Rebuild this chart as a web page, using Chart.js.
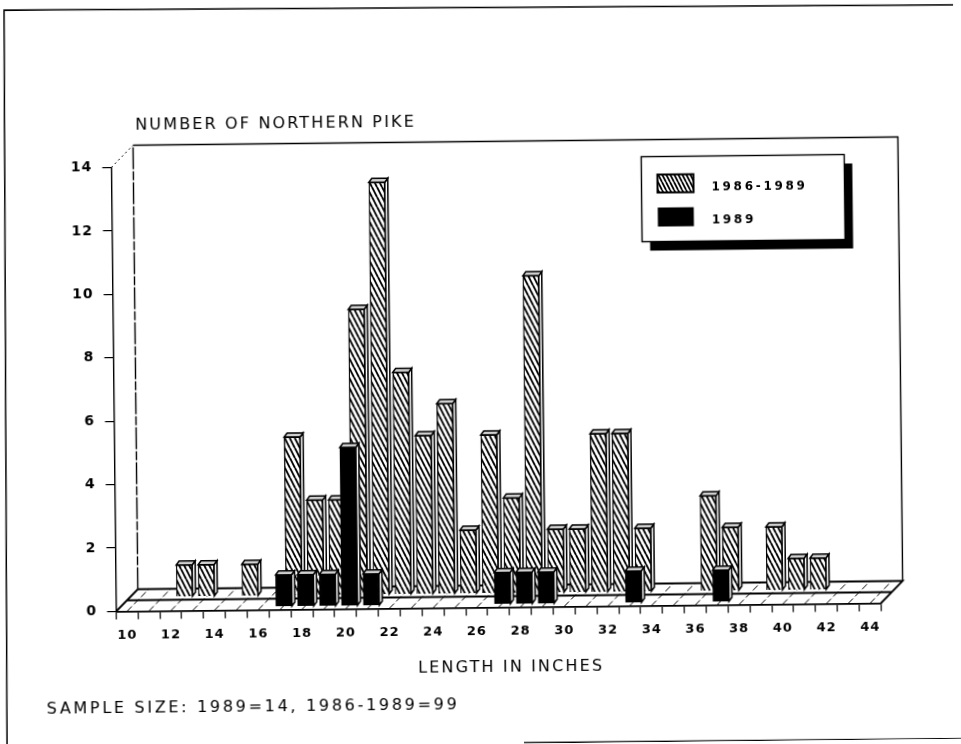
<!DOCTYPE html>
<html><head><meta charset="utf-8">
<style>html,body{margin:0;padding:0;background:#fff;overflow:hidden}
#wrap{width:961px;height:744px;transform:rotate(-0.62deg);transform-origin:480px 372px}
canvas{display:block}</style>
<script src="https://cdn.jsdelivr.net/npm/chart.js@4/dist/chart.umd.js"></script>
</head><body><div id="wrap"><canvas id="c" width="961" height="744"></canvas></div>
<script>
const lengthTicks=[10,11,12,13,14,15,16,17,18,19,20,21,22,23,24,25,26,27,28,29,30,31,32,33,34,35,36,37,38,39,40,41,42,43,44];
const lengths86=[12,13,15,17,18,19,20,21,22,23,24,25,26,27,28,29,30,31,32,33,36,37,39,40,41];
const counts86=[1,1,1,5,3,3,9,13,7,5,6,2,5,3,10,2,2,5,5,2,3,2,2,1,1];
const lengths89=[17,18,19,20,21,27,28,29,33,37];
const counts89=[1,1,1,5,1,1,1,1,1,1];
const countTicks=[0,2,4,6,8,10,12,14];
const seriesNames=['1986-1989','1989'];
const yTitle='NUMBER OF NORTHERN PIKE';
const xTitle='LENGTH IN INCHES';
const note='SAMPLE SIZE: 1989=14, 1986-1989=99';

const FONT='"DejaVu Sans"';
const ctx0=document.getElementById('c').getContext('2d');
function hatch(w,h,lw){
  const t=document.createElement('canvas');t.width=w;t.height=h;
  const g=t.getContext('2d');g.fillStyle='#fff';g.fillRect(0,0,w,h);
  g.strokeStyle='#000';g.lineWidth=lw;
  for(const o of [-w,0,w]){g.beginPath();g.moveTo(o,0);g.lineTo(o+w,h);g.stroke();}
  return ctx0.createPattern(t,'repeat');
}
const hatchBar=hatch(5,10,1.9), hatchLegend=hatch(4,8,1.8);
const DEPTH={dx:22,dy:22};
const SHIFT=[{dx:14,dy:14},{dx:4,dy:3}];
const BDX=3,BDY=4;

const depthPlugin={
  id:'depth',
  beforeDraw(ch){
    const c=ch.ctx,a=ch.chartArea;
    c.letterSpacing='1px';
    c.save();c.strokeStyle='#000';
    // page frame
    c.lineWidth=1.5;
    c.beginPath();c.moveTo(3,745);c.lineTo(8,5);c.lineTo(957,10);c.stroke();
    c.lineWidth=2;
    c.beginPath();c.moveTo(520,743.4);c.lineTo(957,744);c.stroke();
    // back wall
    c.lineWidth=1.4;
    c.beginPath();
    c.setLineDash([22,2,9,2]);
    c.moveTo(a.left+DEPTH.dx,a.bottom-DEPTH.dy);c.lineTo(a.left+DEPTH.dx,a.top-DEPTH.dy);
    c.stroke();c.setLineDash([]);
    c.beginPath();c.moveTo(a.left+DEPTH.dx,a.top-DEPTH.dy);c.lineTo(a.right+DEPTH.dx,a.top-DEPTH.dy);
    c.lineTo(a.right+DEPTH.dx,a.bottom-DEPTH.dy);c.stroke();
    c.lineWidth=1;c.setLineDash([2,3]);
    c.beginPath();c.moveTo(a.left,a.top);c.lineTo(a.left+DEPTH.dx,a.top-DEPTH.dy);c.stroke();c.setLineDash([]);
    // floor
    c.lineWidth=1.8;
    c.beginPath();
    c.moveTo(a.left+DEPTH.dx,a.bottom-DEPTH.dy);c.lineTo(a.right+DEPTH.dx,a.bottom-DEPTH.dy);
    c.lineTo(a.right,a.bottom);c.moveTo(a.left,a.bottom);c.lineTo(a.left+DEPTH.dx,a.bottom-DEPTH.dy);
    c.moveTo(a.left+DEPTH.dx/2,a.bottom-DEPTH.dy/2);c.lineTo(a.right+DEPTH.dx/2,a.bottom-DEPTH.dy/2);
    c.stroke();
    c.lineWidth=1;
    const xs=ch.scales.x;
    c.setLineDash([7,3]);
    for(const v of lengthTicks){
      const x=xs.getPixelForValue(v);
      c.beginPath();c.moveTo(x,a.bottom);c.lineTo(x+DEPTH.dx,a.bottom-DEPTH.dy);c.stroke();
    }
    c.restore();
    // legend
    c.save();
    const L=643.5,T=158.5,W=203,H=85;
    c.fillStyle='#000';c.fillRect(L+8,T+9,W,H);
    c.fillStyle='#fff';c.fillRect(L,T,W,H);
    c.strokeStyle='#000';c.lineWidth=1.4;c.strokeRect(L,T,W,H);
    c.fillStyle=hatchLegend;c.fillRect(L+16,T+18,36,18);c.lineWidth=2;c.strokeRect(L+16,T+18,36,18);
    c.fillStyle='#000';c.fillRect(L+16,T+51,36,19);
    c.font='bold 12px '+FONT;c.letterSpacing='2.7px';c.textBaseline='middle';c.textAlign='left';
    c.fillText(seriesNames[0],L+70,T+31);
    c.fillText(seriesNames[1],L+70,T+64);
    c.restore();
    // texts
    c.save();c.fillStyle='#000';c.textBaseline='middle';c.textAlign='left';
    c.font='16px '+FONT;c.letterSpacing='2.15px';
    c.fillText(yTitle,138,122);
    c.fillText(xTitle,415,668);
    c.letterSpacing='2.7px';
    c.fillText(note,43,705);
    c.restore();
  },
  beforeDatasetDraw(ch,args){
    const s=SHIFT[args.index],c=ch.ctx;
    c.save();c.translate(s.dx,-s.dy);
    const m=ch.getDatasetMeta(args.index);
    for(const b of m.data){
      const p=b.getProps(['x','y','width','base'],true);
      const l=p.x-p.width/2,r=p.x+p.width/2,t=p.y,bt=p.base;
      c.fillStyle='#fff';c.strokeStyle='#000';c.lineWidth=1.5;
      c.beginPath();c.moveTo(r,t);c.lineTo(r+BDX,t-BDY);c.lineTo(r+BDX,bt-BDY);c.lineTo(r,bt);c.closePath();c.fill();c.stroke();
      c.beginPath();c.moveTo(l,t);c.lineTo(l+BDX,t-BDY);c.lineTo(r+BDX,t-BDY);c.lineTo(r,t);c.closePath();c.fillStyle='#d0d0d0';c.fill();c.stroke();
    }
  },
  afterDatasetDraw(ch){ch.ctx.restore();}
};

new Chart(ctx0,{
  type:'bar',
  plugins:[depthPlugin],
  data:{datasets:[
    {label:seriesNames[0],data:lengths86.map((x,i)=>({x,y:counts86[i]})),backgroundColor:hatchBar,borderColor:'#000',borderWidth:1.3,barThickness:16,order:2,grouped:false},
    {label:seriesNames[1],data:lengths89.map((x,i)=>({x,y:counts89[i]})),backgroundColor:'#000',borderColor:'#000',borderWidth:1.3,barThickness:16,order:1,grouped:false}
  ]},
  options:{
    responsive:false,animation:false,
    layout:{padding:{left:0,top:163.5,right:82.6,bottom:0}},
    plugins:{legend:{display:false},title:{display:false},tooltip:{enabled:false}},
    scales:{
      x:{type:'linear',min:9.5,max:44.5,offset:false,
        afterBuildTicks(s){s.ticks=lengthTicks.map(value=>({value}));},
        afterFit(s){s.height=136.5;},
        grid:{display:true,drawOnChartArea:false,drawTicks:true,tickLength:8,color:'#000',lineWidth:1.2},
        border:{display:true,color:'#000',width:1.8},
        ticks:{autoSkip:false,maxRotation:0,minRotation:0,padding:8,color:'#000',font:{family:FONT,size:13,weight:'bold'},
          callback(v){return v%2===0?String(v):'';}}
      },
      y:{type:'linear',min:0,max:14,
        afterBuildTicks(s){s.ticks=countTicks.map(value=>({value}));},
        afterFit(s){s.width=113.5;},
        grid:{display:true,drawOnChartArea:false,drawTicks:true,tickLength:9,color:'#000',lineWidth:1.2},
        border:{display:true,color:'#000',width:1.4,dash:[16,2,7,3]},
        ticks:{padding:10,color:'#000',font:{family:FONT,size:14,weight:'bold'}}
      }
    }
  }
});
</script></body></html>
